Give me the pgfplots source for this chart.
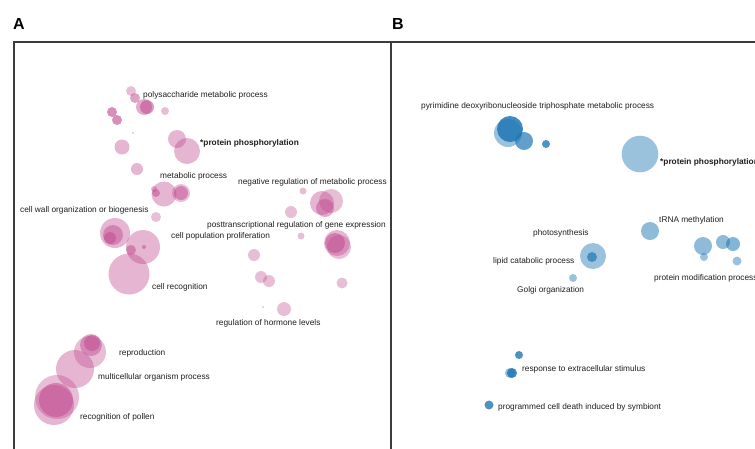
\documentclass[border=0pt]{standalone}
\usepackage{fontspec}
\setmainfont{Liberation Sans}
\usepackage{pgfplots}
\pgfplotsset{compat=1.18}
\definecolor{pinkc}{RGB}{190,70,140}
\definecolor{bluec}{RGB}{31,119,180}
\definecolor{framec}{RGB}{60,60,60}
\definecolor{textc}{RGB}{30,30,30}

\pgfplotsset{
  bubbles/.style={scatter, only marks, mark=*,
    visualization depends on={\thisrow{r} \as \rad},
    visualization depends on={\thisrow{a} \as \op},
    scatter/use mapped color={draw=#1, fill=#1},
    scatter/@pre marker code/.append style={/tikz/mark size=\rad pt},
    scatter/@pre marker code/.append code={\pgfsetfillopacity{\op}\pgfsetstrokeopacity{0}}},
  panel/.style={scale only axis, y dir=reverse, xtick=\empty, ytick=\empty,
    axis line style={framec, line width=1.3pt}, clip=false},
}
\tikzset{lab/.style={anchor=west, inner sep=0pt, text=textc,
  font=\fontsize{8.3}{9}\selectfont}}

% x y (pixels), r radius, a opacity
\pgfplotstableread{
x y r a
131 91 5 0.35
135 98 5 0.5
144 107 8 0.45
147 107 7 0.55
112 112 5 0.6
117 120 5 0.6
165 111 4 0.35
133 133 0.8 0.5
177 139 9 0.4
187 151 13 0.4
122 147 7.5 0.4
137 169 6 0.4
164 194 12.5 0.4
156 193 4 0.5
154 189 3 0.4
181 193 9 0.35
181 193 7 0.5
156 217 5 0.35
115 233 15 0.4
113 235 10 0.45
110 238 6 0.5
143 247 17 0.4
131 250 5 0.5
144 247 2 0.5
129 274 20.5 0.4
303 191 3.5 0.35
291 212 6 0.35
331 201 12 0.35
322 203 12 0.4
325 208 9 0.45
301 236 3.5 0.35
337 243 13 0.4
335 243 10 0.5
339 247 12 0.35
254 255 6 0.35
261 277 6 0.35
269 281 6 0.35
342 283 5.5 0.35
263 307 0.8 0.5
284 309 7 0.35
90 352 16 0.35
91 345 11 0.45
92 343 8 0.5
75 369 19 0.4
57 397 22 0.35
54 405 20 0.4
56 400 17 0.5
}\dataA

\pgfplotstableread{
x y r a
508 133 14 0.45
510 129 13 0.85
524 141 9 0.7
546 144 4 0.8
640 154 18.3 0.45
650 231 9 0.5
593 256 13 0.45
592 257 5 0.7
573 278 4 0.45
703 246 9 0.5
723 242 7 0.5
733 244 7 0.55
704 257 4 0.45
737 261 4.5 0.45
519 355 4 0.8
510 373 5 0.5
512 373 5 0.85
489 405 4.5 0.8
}\dataB

\begin{document}
\begin{tikzpicture}
\useasboundingbox (0,-448pt) rectangle (755pt,0);
\clip (0,-448pt) rectangle (755pt,0);

\node[anchor=base west, inner sep=0pt, font=\fontsize{16}{18}\selectfont\bfseries] at (13pt,-29pt) {A};
\node[anchor=base west, inner sep=0pt, font=\fontsize{16}{18}\selectfont\bfseries] at (392pt,-29pt) {B};

\begin{axis}[panel, at={(14pt,-42pt)}, anchor=north west,
  width=377pt, height=420pt, xmin=14, xmax=391, ymin=42, ymax=462]
\addplot[bubbles=pinkc] table {\dataA};
\node[lab] at (axis cs:143,95) {polysaccharide metabolic process};
\node[lab, font=\fontsize{8.3}{9}\selectfont\bfseries] at (axis cs:200,143) {*protein phosphorylation};
\node[lab] at (axis cs:160,176) {metabolic process};
\node[lab] at (axis cs:238,182) {negative regulation of metabolic process};
\node[lab] at (axis cs:20,210) {cell wall organization or biogenesis};
\node[lab] at (axis cs:207,225) {posttranscriptional regulation of gene expression};
\node[lab] at (axis cs:171,236) {cell population proliferation};
\node[lab] at (axis cs:152,287) {cell recognition};
\node[lab] at (axis cs:216,323) {regulation of hormone levels};
\node[lab] at (axis cs:119,353) {reproduction};
\node[lab] at (axis cs:98,377) {multicellular organism process};
\node[lab] at (axis cs:80,417) {recognition of pollen};
\end{axis}

\begin{axis}[panel, at={(391pt,-42pt)}, anchor=north west,
  width=389pt, height=420pt, xmin=391, xmax=780, ymin=42, ymax=462]
\addplot[bubbles=bluec] table {\dataB};
\node[lab] at (axis cs:421,106) {pyrimidine deoxyribonucleoside triphosphate metabolic process};
\node[lab, font=\fontsize{8.3}{9}\selectfont\bfseries] at (axis cs:660,162) {*protein phosphorylation};
\node[lab] at (axis cs:659,220) {tRNA methylation};
\node[lab] at (axis cs:533,233) {photosynthesis};
\node[lab] at (axis cs:493,261) {lipid catabolic process};
\node[lab] at (axis cs:517,290) {Golgi organization};
\node[lab] at (axis cs:654,278) {protein modification process};
\node[lab] at (axis cs:522,369) {response to extracellular stimulus};
\node[lab] at (axis cs:498,407) {programmed cell death induced by symbiont};
\end{axis}
\end{tikzpicture}
\end{document}
